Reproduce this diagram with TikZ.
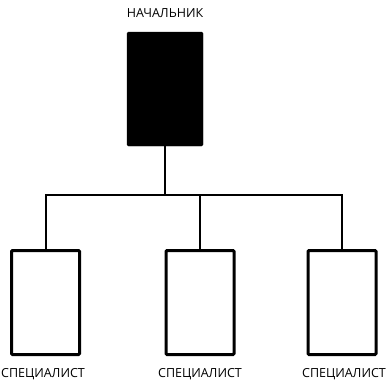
\documentclass[tikz,border=0pt]{standalone}
\usepackage{fontspec}
\setmainfont{Open Sans}
\usetikzlibrary{positioning}
\begin{document}
\begin{tikzpicture}[x=1pt, y=1pt,
    chief/.style={draw, fill=black, rounded corners=1.5pt, minimum width=76pt, minimum height=114pt, inner sep=0pt},
    worker/.style={draw, line width=3pt, rounded corners=1pt, minimum width=68pt, minimum height=104pt, inner sep=0pt},
    conn/.style={line width=2pt},
    caption/.style={font=\fontsize{12.5pt}{14pt}\selectfont, inner sep=0pt}]
        \def \busy {-195}
        \useasboundingbox (0,0) rectangle (388,-380);

        \node[chief] (boss) at (165,-89) {};
        \node[caption] (bosslabel) at (165,-13) {НАЧАЛЬНИК};

        \node[worker] (s1) at (45.5,-302.5) {};
        \node[worker] (s2) at (200,-302.5) {};
        \node[worker] (s3) at (342,-302.5) {};

        \node[caption] (l1) at (43,-374) {СПЕЦИАЛИСТ};
        \node[caption] (l2) at (200,-374) {СПЕЦИАЛИСТ};
        \node[caption] (l3) at (344,-374) {СПЕЦИАЛИСТ};

        \coordinate (bus) at (0,\busy);
        \draw[conn] (boss.south) -- (boss.south |- bus);
        \draw[conn] (s1.north) -- (s1.north |- bus) -- (s3.north |- bus) -- (s3.north);
        \draw[conn] (s2.north) -- (s2.north |- bus);
      \end{tikzpicture}
\end{document}
